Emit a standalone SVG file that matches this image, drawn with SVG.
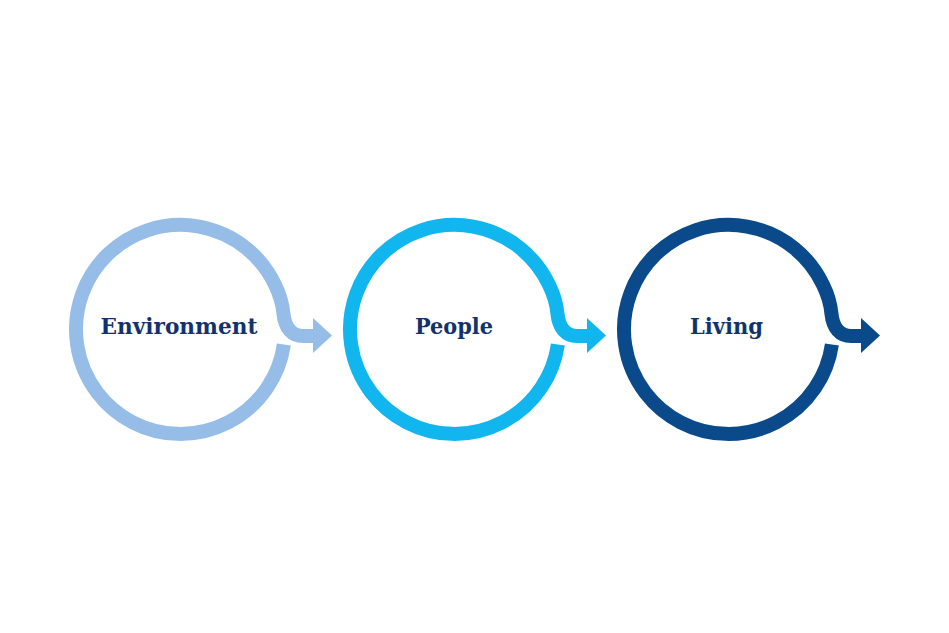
<svg xmlns="http://www.w3.org/2000/svg" width="949" height="633" viewBox="0 0 949 633">
  <defs>
    <style>
      .ring { fill: none; stroke-width: 14; stroke-linecap: butt; stroke-linejoin: round; }
      .lbl { font-family: "DejaVu Serif", "Liberation Serif", serif; font-size: 22px; font-weight: 600; fill: #12326e; text-anchor: middle; }
      .c1 { stroke: #96bde8; } .f1 { fill: #96bde8; }
      .c2 { stroke: #12b6ee; } .f2 { fill: #12b6ee; }
      .c3 { stroke: #0a4a8a; } .f3 { fill: #0a4a8a; }
    </style>
    <g id="shape">
      <path d="M 283.9 344.5 A 104.5 104.5 0 1 1 275 284.8 C 279.4 293.7 282.5 303 283.5 314 C 285 328 292 336 303 336 L 315 336"/>
    </g>
  </defs>
  <rect width="949" height="633" fill="#ffffff"/>
  <g id="node-environment">
    <use href="#shape" class="ring c1"/>
    <polygon class="f1" points="313,318 332,335.5 313,353"/>
    <text class="lbl" x="179" y="334" textLength="157" lengthAdjust="spacingAndGlyphs">Environment</text>
  </g>
  <g id="node-people" transform="translate(274,0)">
    <use href="#shape" class="ring c2"/>
    <polygon class="f2" points="313,318 332,335.5 313,353"/>
    <text class="lbl" x="180" y="334" textLength="78" lengthAdjust="spacingAndGlyphs">People</text>
  </g>
  <g id="node-living" transform="translate(548,0)">
    <use href="#shape" class="ring c3"/>
    <polygon class="f3" points="313,318 332,335.5 313,353"/>
    <text class="lbl" x="178.5" y="334" textLength="73" lengthAdjust="spacingAndGlyphs">Living</text>
  </g>
  <g id="connectors"></g>
</svg>
